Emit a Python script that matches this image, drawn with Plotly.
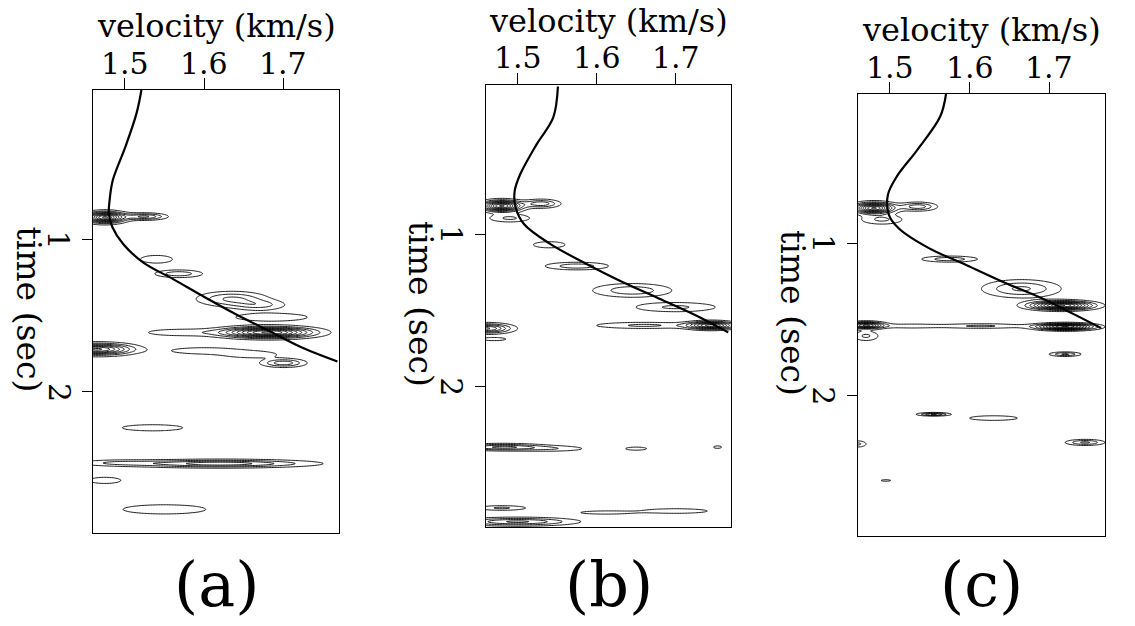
import numpy as np
import plotly.graph_objects as go

W, H = 1135, 626

# ---------------- data ----------------
vel_ticks = [1.5, 1.6, 1.7]
time_ticks = [1, 2]
vel_range = [1.46, 1.77]
time_range = [2.925, 0.02]
panel_labels = ["(a)", "(b)", "(c)"]

# picked velocity curves (time s, velocity km/s)
a_curve_t = [0.02, 0.17, 0.39, 0.61, 0.74, 0.83, 0.92, 1.03, 1.15, 1.26, 1.37, 1.49, 1.60, 1.71, 1.80]
a_curve_v = [1.521, 1.515, 1.501, 1.485, 1.481, 1.480, 1.4845, 1.498, 1.523, 1.561, 1.598, 1.640, 1.682, 1.724, 1.768]
b_curve_t = [0.03, 0.235, 0.41, 0.61, 0.72, 0.825, 0.934, 1.066, 1.186, 1.318, 1.416, 1.536, 1.646]
b_curve_v = [1.551, 1.545, 1.524, 1.503, 1.4962, 1.4975, 1.508, 1.5416, 1.5836, 1.634, 1.676, 1.7265, 1.7665]
c_curve_t = [0.02, 0.17, 0.39, 0.56, 0.683, 0.814, 0.902, 1.033, 1.142, 1.262, 1.361, 1.47, 1.558]
c_curve_v = [1.5705, 1.563, 1.534, 1.509, 1.4975, 1.4988, 1.511, 1.549, 1.595, 1.645, 1.690, 1.732, 1.765]

# semblance events: centre time, centre velocity, half-extent in v, half-extent in t, strength
a_blob_t = [0.855, 0.85, 1.13, 1.225, 1.39, 1.43, 1.51, 1.61, 1.61, 1.72, 1.73, 1.755, 1.81, 2.235, 2.47, 2.465, 2.58, 2.77]
a_blob_v = [1.475, 1.525, 1.54, 1.568, 1.635, 1.67, 1.685, 1.68, 1.57, 1.465, 1.60, 1.66, 1.70, 1.535, 1.62, 1.49, 1.475, 1.55]
a_blob_dv = [0.035, 0.03, 0.02, 0.03, 0.045, 0.03, 0.045, 0.08, 0.04, 0.06, 0.04, 0.03, 0.03, 0.038, 0.13, 0.04, 0.02, 0.052]
a_blob_dt = [0.05, 0.025, 0.025, 0.025, 0.05, 0.03, 0.025, 0.05, 0.02, 0.05, 0.02, 0.02, 0.03, 0.02, 0.03, 0.015, 0.02, 0.03]
a_blob_s = [1.0, 0.4, 0.15, 0.25, 0.3, 0.2, 0.15, 1.0, 0.15, 0.8, 0.15, 0.15, 0.35, 0.15, 0.45, 0.15, 0.15, 0.15]

b_blob_t = [0.815, 0.80, 0.895, 1.07, 1.21, 1.37, 1.48, 1.60, 1.60, 1.62, 1.69, 2.40, 2.41, 2.41, 2.40, 2.80, 2.83, 2.82, 2.89]
b_blob_v = [1.48, 1.53, 1.49, 1.54, 1.575, 1.645, 1.70, 1.745, 1.66, 1.46, 1.47, 1.48, 1.545, 1.65, 1.753, 1.48, 1.61, 1.70, 1.50]
b_blob_dv = [0.035, 0.025, 0.025, 0.02, 0.04, 0.05, 0.05, 0.04, 0.06, 0.04, 0.015, 0.06, 0.035, 0.013, 0.005, 0.03, 0.03, 0.04, 0.08]
b_blob_dt = [0.05, 0.03, 0.025, 0.02, 0.025, 0.045, 0.03, 0.035, 0.02, 0.04, 0.01, 0.025, 0.015, 0.01, 0.008, 0.015, 0.01, 0.015, 0.03]
b_blob_s = [1.0, 0.35, 0.2, 0.15, 0.25, 0.25, 0.2, 0.8, 0.2, 0.6, 0.15, 0.4, 0.15, 0.15, 0.15, 0.2, 0.15, 0.15, 0.4]

c_blob_t = [0.77, 0.76, 0.845, 1.105, 1.41, 1.30, 1.54, 1.545, 1.55, 1.545, 1.61, 1.73, 2.125, 2.15, 2.31, 2.32, 2.56]
c_blob_v = [1.48, 1.535, 1.49, 1.575, 1.715, 1.665, 1.47, 1.525, 1.72, 1.615, 1.47, 1.72, 1.555, 1.63, 1.745, 1.46, 1.495]
c_blob_dv = [0.035, 0.025, 0.025, 0.035, 0.055, 0.05, 0.03, 0.03, 0.05, 0.05, 0.015, 0.02, 0.022, 0.03, 0.025, 0.01, 0.006]
c_blob_dt = [0.05, 0.03, 0.03, 0.02, 0.04, 0.06, 0.03, 0.012, 0.03, 0.015, 0.03, 0.015, 0.012, 0.015, 0.02, 0.02, 0.005]
c_blob_s = [1.0, 0.35, 0.2, 0.25, 1.0, 0.3, 0.8, 0.15, 1.0, 0.2, 0.2, 0.3, 0.4, 0.15, 0.3, 0.2, 0.12]

# ---------------- build fields ----------------
BASE = 0.08
v_grid = np.round(np.arange(1.455, 1.7751, 0.002), 4)
t_grid = np.round(np.arange(0.0, 2.951, 0.003), 4)
VV, TT = np.meshgrid(v_grid, t_grid)


def field(bt, bv, bdv, bdt, bs):
    z = np.zeros_like(VV)
    for tc, vc, dv, dt, s in zip(bt, bv, bdv, bdt, bs):
        k = np.sqrt(2 * np.log(s / BASE))
        sv, st = dv / k, dt / k
        z += s * np.exp(-0.5 * ((VV - vc) / sv) ** 2 - 0.5 * ((TT - tc) / st) ** 2)
    return np.round(z, 3)


panels = [
    (a_curve_t, a_curve_v, a_blob_t, a_blob_v, a_blob_dv, a_blob_dt, a_blob_s),
    (b_curve_t, b_curve_v, b_blob_t, b_blob_v, b_blob_dv, b_blob_dt, b_blob_s),
    (c_curve_t, c_curve_v, c_blob_t, c_blob_v, c_blob_dv, c_blob_dt, c_blob_s),
]

# panel boxes in pixels: left, right, top, bottom
boxes = [(93, 339, 90, 533), (486, 731, 85, 527), (858, 1105, 94, 536)]

FONT = "DejaVu Serif"
fig = go.Figure()
annotations = []
for i, (ct, cv, bt, bv, bdv, bdt, bs) in enumerate(panels):
    n = "" if i == 0 else str(i + 1)
    xa, ya = "x" + n, "y" + n
    z = field(bt, bv, bdv, bdt, bs)
    fig.add_trace(go.Contour(
        x=v_grid, y=t_grid, z=z, xaxis=xa, yaxis=ya,
        contours=dict(start=BASE, end=1.0, size=0.1, coloring="lines"),
        colorscale=[[0, "black"], [1, "black"]],
        line=dict(width=0.9), showscale=False, hoverinfo="skip"))
    fig.add_trace(go.Scatter(
        x=cv, y=ct, xaxis=xa, yaxis=ya, mode="lines",
        line=dict(color="black", width=2.2, shape="spline", smoothing=1.0),
        hoverinfo="skip", showlegend=False))

    l, r, t, b = boxes[i]
    dom_x = [l / W, r / W]
    dom_y = [1 - b / H, 1 - t / H]
    fig.layout["xaxis" + n] = dict(
        domain=dom_x, range=vel_range, side="top", tickvals=vel_ticks,
        showticklabels=False, ticks="outside", ticklen=11,
        tickcolor="black", tickwidth=1, showline=True, mirror=True,
        linecolor="black", linewidth=1.3, showgrid=False, zeroline=False,
        anchor=ya, fixedrange=True)
    fig.layout["yaxis" + n] = dict(
        domain=dom_y, range=time_range, tickvals=time_ticks,
        showticklabels=False, ticks="outside", ticklen=10,
        tickcolor="black", tickwidth=1, showline=True,
        mirror=True, linecolor="black", linewidth=1.3, showgrid=False,
        zeroline=False, anchor=xa, fixedrange=True)

    # velocity tick labels
    for vv in vel_ticks:
        annotations.append(dict(text=f"{vv:.1f}", x=vv, y=1 - (t - 27) / H,
                                xref=xa, yref="paper", showarrow=False,
                                xanchor="center", yanchor="middle",
                                font=dict(family=FONT, size=30, color="black")))
    # rotated tick labels of the time axis
    for tv in time_ticks:
        annotations.append(dict(text=str(tv), x=(l - 34) / W, y=tv,
                                xref="paper", yref=ya, showarrow=False,
                                textangle=90, xanchor="center", yanchor="middle",
                                font=dict(family=FONT, size=30, color="black")))

    cx = (l + r) / 2
    annotations.append(dict(text="velocity (km/s)", x=cx / W, y=1 - (t - 64) / H,
                            xref="paper", yref="paper", showarrow=False,
                            xanchor="center", yanchor="middle",
                            font=dict(family=FONT, size=32, color="black")))
    annotations.append(dict(text="time (sec)", x=(l - 65) / W,
                            y=1 - ((t + b) / 2 - 2) / H,
                            xref="paper", yref="paper", showarrow=False,
                            textangle=90, xanchor="center", yanchor="middle",
                            font=dict(family=FONT, size=33, color="black")))
    annotations.append(dict(text=panel_labels[i], x=cx / W, y=1 - 584 / H,
                            xref="paper", yref="paper", showarrow=False,
                            xanchor="center", yanchor="middle",
                            font=dict(family=FONT, size=62, color="black")))

fig.update_layout(
    width=W, height=H, autosize=False,
    margin=dict(l=0, r=0, t=0, b=0),
    paper_bgcolor="white", plot_bgcolor="white",
    showlegend=False, annotations=annotations)

fig.write_html("out.html", config={"displayModeBar": False},
               post_script="document.body.style.margin='0';document.body.style.overflow='hidden';")
